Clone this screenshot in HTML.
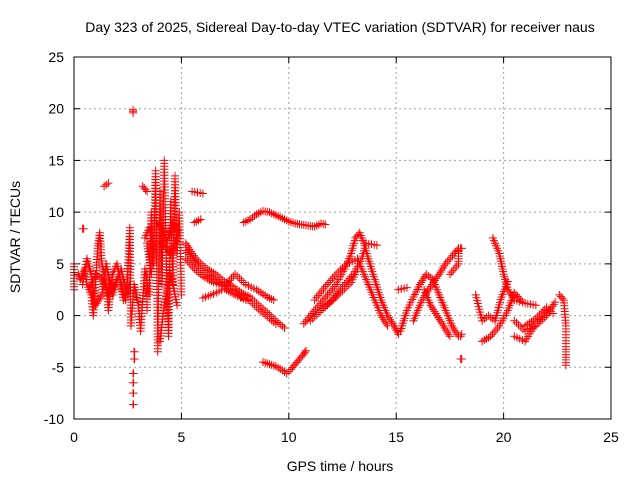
<!DOCTYPE html>
<html><head><meta charset="utf-8"><style>
body{margin:0;background:#fff}
svg{display:block;font-family:"Liberation Sans",sans-serif}
</style></head><body>
<svg id="chart" width="640" height="480">
<rect width="640" height="480" fill="#fff"/>
<text x="340" y="32" font-size="14" text-anchor="middle">Day 323 of 2025, Sidereal Day-to-day VTEC variation (SDTVAR) for receiver naus</text>
<text x="340" y="471" font-size="14" text-anchor="middle">GPS time / hours</text>
<text transform="translate(20,237) rotate(-90)" font-size="14" text-anchor="middle">SDTVAR / TECUs</text>
<g id="grid"></g><g id="ticks"></g><g id="marks"></g>
<rect x="74" y="57" width="537" height="362" fill="none" stroke="#000"/>
</svg>
<script>
const xTicks=[0,5,10,15,20,25];
const yTicks=[-10,-5,0,5,10,15,20,25];
const tracks=[
[[0,2.5],[0,5]],
[[0.2,4],[0.3,3.5],[0.5,4.5],[0.6,3],[0.8,2],[0.9,0],[1,3],[1.1,6.5],[1.2,8],[1.3,5],[1.5,3],[1.6,0.5],[1.8,4],[2,5],[2.2,3],[2.4,1.5],[2.5,4],[2.6,8.5],[2.65,-1],[2.8,3],[3,1],[3.1,-1.5],[3.3,4.5],[3.5,2],[3.6,10],[3.7,5],[3.8,14],[3.9,-3.5],[4,12],[4.1,3],[4.2,15],[4.3,5],[4.4,-2],[4.5,11],[4.6,3],[4.7,13.5],[4.8,6],[4.9,10],[5,2]],
[[0.4,3],[0.6,5.5],[0.8,4],[1.0,1],[1.3,2],[1.5,5],[1.8,2],[2.1,4],[2.3,1.5],[2.6,3]],
[[0.7,2.5],[1.0,4],[1.3,3.5],[1.6,2],[1.9,3],[2.2,4.5],[2.4,2.5]],
[[3.3,7.5],[3.5,8.5],[3.7,6.5],[3.6,4],[3.4,7]],
[[4.0,9],[4.3,7],[4.6,9],[4.9,8],[4.5,6],[4.1,7]],
[[1.4,12.5],[1.6,12.8]],[[0.4,8.4],[0.45,8.4]],[[2.75,19.9],[2.75,19.6]],
[[3.2,12.5],[3.4,12]],[[5.5,12],[6,11.8]],[[5.6,9],[5.9,9.3]],
[[3.4,4],[3.4,0.5]],[[4,-2.5],[4.2,1],[4.5,4],[4.8,1]],
[[2.8,-3.5],[2.82,-3.5]],[[2.8,-4.2],[2.82,-4.2]],[[2.75,-5.6],[2.77,-5.6]],[[2.75,-6.5],[2.77,-6.5]],[[2.75,-7.5],[2.77,-7.5]],[[2.75,-8.6],[2.77,-8.6]],
[[5.2,7],[5.5,6],[5.8,5.2],[6.2,4.5],[6.6,4.0],[7,3.3],[7.4,2.8],[7.8,2.2],[8.2,1.8],[8.6,1.0],[9.0,0.3],[9.4,-0.5],[9.8,-1.2]],
[[5.2,6.3],[5.5,5.5],[5.8,4.7],[6.2,4.0],[6.6,3.5],[7,2.9],[7.4,2.4],[7.8,1.8],[8.2,1.4],[8.6,0.6],[9.0,-0.1],[9.4,-0.8]],
[[5.2,5.5],[5.6,4.5],[6,3.8],[6.5,3.2],[7,2.8],[7.5,4],[8,3],[8.5,2.5],[9,1.8],[9.3,1.5]],
[[6,1.7],[6.5,2.1],[7,2.6],[7.5,2.0],[8,1.5]],
[[7.9,9.0],[8.2,9.3],[8.5,9.8],[8.8,10.1],[9.1,10.0],[9.4,9.7],[9.7,9.4],[10.0,9.1],[10.3,8.9],[10.6,8.8],[10.9,8.7],[11.2,8.6],[11.5,8.9],[11.7,8.8]],
[[8.8,-4.5],[9.1,-4.7],[9.4,-4.9],[9.7,-5.3],[9.9,-5.6],[10.1,-5.2],[10.3,-4.7],[10.5,-4.2],[10.7,-3.7],[10.8,-3.4]],
[[10.7,-0.8],[11,0],[11.4,1],[11.8,2],[12.2,3],[12.6,4.5],[12.9,6],[13.1,7.5],[13.3,8],[13.5,7],[13.7,5.5],[14,3.5],[14.3,1.5],[14.6,0],[14.9,-1],[15.1,-1.8]],
[[11,-0.5],[11.5,0.5],[12,1.5],[12.5,2.8],[13,4],[13.4,5.5],[13.6,7],[14.1,6.8]],
[[11.2,1.5],[11.7,2.8],[12.2,4],[12.7,5],[13.2,5.5],[13.5,4],[13.9,2],[14.3,0],[14.6,-1]],
[[11.4,0.3],[11.9,1.2],[12.4,2.2],[12.9,3.2],[13.2,4.5]],
[[15.2,-1.5],[15.5,0.5],[15.8,1.8],[16.1,3],[16.4,4],[16.7,3.5],[17,2],[17.3,0.5],[17.6,-1],[17.9,-2]],
[[15.8,-0.5],[16.2,1.5],[16.6,2.8],[17,4],[17.3,5],[17.7,6],[17.9,6.5],[17.9,5],[17.5,4]],
[[16.3,2.5],[16.6,1],[16.9,0],[17.2,-1],[17.5,-2]],
[[15.1,2.5],[15.5,2.7]],[[18,6.5],[18.05,6.5]],[[18,-4.2],[18.05,-4.2]],[[18,-2],[18.05,-1.8]],
[[18.7,2],[19,-0.5],[19.3,0],[19.6,-0.5],[19.9,1.8],[20.2,3.3]],
[[19.5,7.5],[19.8,6],[20,4],[20.2,2.5],[20.5,1.5],[21,1.2],[21.5,1]],
[[19,-2.5],[19.4,-2],[19.8,-1],[20.2,0.5],[20.5,2.2],[20.8,1.5]],
[[20.5,-0.5],[21,-1.5],[21.5,-1],[22,0],[22.4,1.3]],
[[20.5,-2],[21,-2.5],[21.5,-0.8],[22,0.5]],
[[21,-1],[21.5,-0.3],[22,0.8],[22.3,0.2]],
[[22.6,2],[22.8,1.5],[22.9,-1],[22.9,-3],[22.9,-4.8]]
];
const NS='http://www.w3.org/2000/svg';
const X=v=>74+v*537/25, Y=v=>57+(25-v)*362/35;
const grid=document.getElementById('grid'),ticks=document.getElementById('ticks'),marks=document.getElementById('marks');
function mk(t,a,p){const e=document.createElementNS(NS,t);for(const k in a)e.setAttribute(k,a[k]);p.appendChild(e);return e;}
xTicks.forEach(t=>{
 if(t>0&&t<25){const g=mk('line',{x1:X(t),x2:X(t),y1:57,y2:419,stroke:'#a0a0a0','stroke-dasharray':'2,3'},grid);
 
 }
 mk('line',{x1:X(t),x2:X(t),y1:419,y2:413,stroke:'#000'},ticks);
 mk('line',{x1:X(t),x2:X(t),y1:57,y2:63,stroke:'#000'},ticks);
 const l=mk('text',{x:X(t),y:442,'font-size':14,'text-anchor':'middle'},ticks);l.textContent=t;
 
 
});
yTicks.forEach(t=>{
 if(t>-10&&t<25){const g=mk('line',{x1:74,x2:611,y1:Y(t),y2:Y(t),stroke:'#a0a0a0','stroke-dasharray':'2,3'},grid);
 
 }
 mk('line',{x1:74,x2:80,y1:Y(t),y2:Y(t),stroke:'#000'},ticks);
 mk('line',{x1:605,x2:611,y1:Y(t),y2:Y(t),stroke:'#000'},ticks);
 const l=mk('text',{x:64,y:Y(t)+5,'font-size':14,'text-anchor':'end'},ticks);l.textContent=t;
 
 
});
let d='';
tracks.forEach(tr=>{
 for(let i=0;i<tr.length;i++){
  const x0=X(tr[i][0]),y0=Y(tr[i][1]);
  if(i===tr.length-1){d+=`M${x0-4},${y0}h8M${x0},${y0-4}v8`;break;}
  const x1=X(tr[i+1][0]),y1=Y(tr[i+1][1]);
  const n=Math.max(1,Math.ceil(Math.hypot(x1-x0,y1-y0)/3));
  for(let k=0;k<n;k++){const x=x0+(x1-x0)*k/n,y=y0+(y1-y0)*k/n;d+=`M${(x-4).toFixed(1)},${y.toFixed(1)}h8M${x.toFixed(1)},${(y-4).toFixed(1)}v8`;}
 }
});
const p=mk('path',{d:d,stroke:'#ff0000','stroke-width':1,fill:'none'},marks);


</script>
</body></html>
